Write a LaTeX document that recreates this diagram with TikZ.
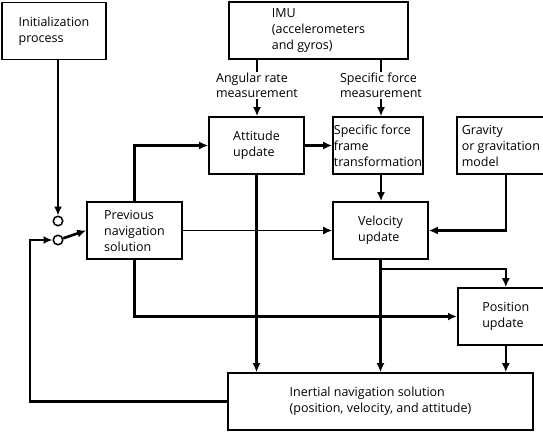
\documentclass[tikz,border=0pt]{standalone}
\usepackage{fontspec}
\setmainfont{Open Sans}
\usetikzlibrary{arrows.meta}

\begin{document}
\begin{tikzpicture}[x=1pt,y=-1pt,
  blk/.style={draw,line width=1.6pt,align=left,minimum height=57pt,inner xsep=4pt,inner ysep=2pt,font=\fontsize{12.5}{16}\selectfont},
  lbl/.style={align=left,inner sep=1pt,font=\fontsize{12.5}{15.5}\selectfont},
  sw/.style={draw,circle,line width=1.5pt,minimum size=9.5pt,inner sep=0pt},
  flow/.style={line width=2.6pt,-{Latex[length=9pt,width=8pt]}},
  thinflow/.style={line width=1.5pt,-{Latex[length=9pt,width=8pt]}},
  stub/.style={line width=2.6pt}]
\useasboundingbox (0,0) rectangle (543,436);

\node[blk,minimum width=104pt] (init) at (54,31) {Initialization\\process};
\node[blk,minimum width=179pt] (imu) at (318.5,30.5) {IMU\\(accelerometers\\and gyros)};
\node[lbl] (angrate) at (257,85.5) {Angular rate\\measurement};
\node[lbl] (sfmeas) at (381,85.5) {Specific force\\measurement};

\node[blk,minimum width=95pt] (att) at (256.5,145.5) {Attitude\\update};
\node[blk,minimum width=90pt,inner xsep=1pt] (sft) at (378,145.5) {Specific force\\frame\\transformation};
\node[blk,anchor=west,inner xsep=5pt] (grav) at (456,145.5) {Gravity\\or gravitation\\model};

\node[blk,minimum width=95pt] (prev) at (134.5,230.5) {Previous\\navigation\\solution};
\node[blk,minimum width=95pt] (vel) at (380.5,230.5) {Velocity\\update};
\node[blk,anchor=west,minimum width=96pt] (pos) at (457,316.5) {Position\\update};
\node[blk,minimum width=305pt] (ins) at (380.5,401.5) {Inertial navigation solution\\(position, velocity, and attitude)};

\node[sw] (swup) at (58,221) {};
\node[sw] (swlo) at (58,240) {};
\coordinate (fb) at (30,240);

\draw[flow] (init.south -| swup) -- (swup.north);
\draw[flow] (ins.west) -| (fb) -- (swlo.west);
\draw[flow] (swlo) -- (prev.west);

\draw[stub] (imu.south -| angrate) -- (angrate.north);
\draw[flow] (angrate.south) -- (angrate.south |- att.north);
\draw[stub] (imu.south -| sfmeas) -- (sfmeas.north);
\draw[flow] (sfmeas.south) -- (sfmeas.south |- sft.north);

\draw[flow] (prev.north) |- (att.west);
\draw[flow] (att.east) -- (sft.west);
\draw[flow] (sft.south -| sfmeas) -- (vel.north -| sfmeas);
\draw[flow] (grav.south -| pos.north) |- (vel.east);
\draw[thinflow] (prev.east) -- (vel.west);

\draw[flow] (prev.south) |- (pos.west);
\draw[flow] (att.south) -- (att.south |- ins.north);
\draw[flow] (vel.south) -- (vel.south |- ins.north);
\draw[flow] (vel.south) -- ++(0,9) -| (pos.north);
\draw[flow] (pos.south) -- (pos.south |- ins.north);
\end{tikzpicture}
\end{document}
